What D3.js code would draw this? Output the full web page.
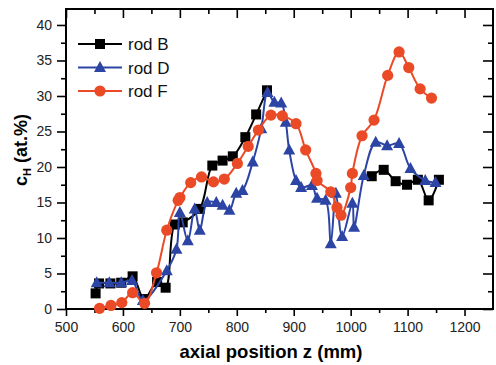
<!DOCTYPE html>
<html>
<head>
<meta charset="utf-8">
<script src="https://cdn.jsdelivr.net/npm/d3@7"></script>
<style>
  body { margin: 0; background: #fff; }
  svg { font-family: "Liberation Sans", Arial, sans-serif; }
</style>
</head>
<body>
<div id="chart"></div>
<script>
// axial position z (mm) and hydrogen content (at.%) per rod
const rodBz = [552, 558, 578, 597, 617, 637, 660, 675, 691, 705, 735, 757, 775, 793, 815, 834, 853, null, 1037, 1058, 1079, 1099, 1118, 1137, 1155];
const rodBc = [2.2, 3.6, 3.6, 3.7, 4.6, 1.4, 3.8, 3.0, 11.9, 12.2, 14.1, 20.2, 20.9, 21.5, 24.2, 27.4, 30.8, null, 18.7, 19.6, 18.0, 17.5, 18.2, 15.3, 18.2];

const rodDz = [554, 576, 597, 616, 635, 677, 694, 700, 714, 726, 735, 748, 764, 775, 787, 799, 810, 828, 843, 854, 866, 878, 886, 892, 904, 913, 932, 941, 956, 965, 974, 985, 1003, 1006, 1023, 1044, 1064, 1085, 1105, 1131, 1149];
const rodDc = [3.7, 3.7, 3.7, 4.0, 1.2, 5.4, 8.4, 13.6, 9.6, 14.1, 11.1, 15.0, 15.0, 14.6, 13.9, 16.3, 16.7, 20.7, 25.4, 30.5, 29.1, 29.0, 26.3, 22.4, 18.1, 17.1, 17.4, 15.6, 15.3, 9.2, 16.3, 10.2, 14.9, 11.5, 18.8, 23.5, 23.0, 23.3, 19.8, 18.1, 17.8];

const rodFz = [559, 579, 598, 617, 638, 659, 677, 697, 700, 719, 738, 759, 778, 801, 820, 838, 860, 880, 904, 921, 939, 941, 965, 976, 983, 1000, 1003, 1020, 1041, 1065, 1085, 1102, 1122, 1142];
const rodFc = [0.1, 0.5, 0.9, 2.3, 0.8, 5.1, 11.1, 15.3, 15.7, 17.8, 18.6, 17.9, 18.3, 20.5, 22.9, 25.2, 27.3, 27.2, 26.1, 22.4, 19.1, 18.1, 16.5, 14.3, 13.2, 17.1, 19.1, 24.4, 26.6, 32.9, 36.2, 34.0, 31.0, 29.7];

const xTicks = [500, 600, 700, 800, 900, 1000, 1100, 1200];
const yTicks = [0, 5, 10, 15, 20, 25, 30, 35, 40];

const series = [
  { name: 'rod B', z: rodBz, c: rodBc, color: '#000000', shape: 'square' },
  { name: 'rod D', z: rodDz, c: rodDc, color: '#2c44a4', shape: 'triangle' },
  { name: 'rod F', z: rodFz, c: rodFc, color: '#ea4a26', shape: 'circle' }
];

const width = 496, height = 365;
const margin = { top: 9, right: 3, bottom: 56, left: 66 };

const svg = d3.select('#chart').append('svg')
  .attr('width', width)
  .attr('height', height);

const x = d3.scaleLinear()
  .domain([500, 1250])
  .range([margin.left, width - margin.right]);

const y = d3.scaleLinear()
  .domain([0, 42.25])
  .range([height - margin.bottom, margin.top]);

const minorX = d3.range(550, 1250, 100);
const minorY = d3.range(2.5, 42, 5);

function styleAxis(g) {
  g.select('.domain').remove();
  g.selectAll('line').attr('stroke', '#000').attr('stroke-width', 1.6);
  g.selectAll('text').attr('font-size', 14).attr('fill', '#222');
}

// bottom axis
svg.append('g')
  .attr('transform', `translate(0,${y(0)})`)
  .call(d3.axisBottom(x).tickValues(xTicks).tickSize(7).tickPadding(6).tickFormat(d3.format('d')))
  .call(styleAxis);
svg.append('g')
  .attr('transform', `translate(0,${y(0)})`)
  .call(d3.axisBottom(x).tickValues(minorX).tickSize(4).tickFormat(''))
  .call(styleAxis);

// top axis (ticks inward)
svg.append('g')
  .attr('transform', `translate(0,${margin.top})`)
  .call(d3.axisTop(x).tickValues(xTicks).tickSize(-9).tickFormat(''))
  .call(styleAxis);
svg.append('g')
  .attr('transform', `translate(0,${margin.top})`)
  .call(d3.axisTop(x).tickValues(minorX).tickSize(-5).tickFormat(''))
  .call(styleAxis);

// left axis
svg.append('g')
  .attr('transform', `translate(${margin.left},0)`)
  .call(d3.axisLeft(y).tickValues(yTicks).tickSize(9).tickPadding(5))
  .call(styleAxis);
svg.append('g')
  .attr('transform', `translate(${margin.left},0)`)
  .call(d3.axisLeft(y).tickValues(minorY).tickSize(5).tickFormat(''))
  .call(styleAxis);

// right axis (ticks inward)
svg.append('g')
  .attr('transform', `translate(${width - margin.right},0)`)
  .call(d3.axisRight(y).tickValues(yTicks).tickSize(-10).tickFormat(''))
  .call(styleAxis);
svg.append('g')
  .attr('transform', `translate(${width - margin.right},0)`)
  .call(d3.axisRight(y).tickValues(minorY).tickSize(-5).tickFormat(''))
  .call(styleAxis);

// frame
svg.append('rect')
  .attr('x', margin.left)
  .attr('y', margin.top)
  .attr('width', width - margin.right - margin.left)
  .attr('height', y(0) - margin.top)
  .attr('fill', 'none')
  .attr('stroke', '#000')
  .attr('stroke-width', 2);

// axis titles
svg.append('text')
  .attr('x', 271)
  .attr('y', 358)
  .attr('text-anchor', 'middle')
  .attr('font-size', 18.5)
  .attr('font-weight', 'bold')
  .text('axial position z (mm)');

const yTitle = svg.append('text')
  .attr('transform', 'translate(27,150) rotate(-90)')
  .attr('text-anchor', 'middle')
  .attr('font-size', 18)
  .attr('font-weight', 'bold');
yTitle.append('tspan').text('c');
yTitle.append('tspan').attr('font-size', 11).attr('dy', 4).text('H');
yTitle.append('tspan').attr('dy', -4).text(' (at.%)');

function drawMarker(g, shape, color, cx, cy) {
  if (shape === 'square') {
    g.append('rect').attr('x', cx - 5).attr('y', cy - 5).attr('width', 10).attr('height', 10).attr('fill', color);
  } else if (shape === 'triangle') {
    g.append('path').attr('d', `M${cx},${cy - 6.5}L${cx + 6},${cy + 4.5}L${cx - 6},${cy + 4.5}Z`).attr('fill', color);
  } else {
    g.append('circle').attr('cx', cx).attr('cy', cy).attr('r', 5.6).attr('fill', color);
  }
}

const line = d3.line()
  .defined(d => d[0] != null)
  .x(d => x(d[0]))
  .y(d => y(d[1]))
  .curve(d3.curveCatmullRom.alpha(0.5));

series.forEach(s => {
  const pts = s.z.map((z, i) => [z, s.c[i]]);
  const g = svg.append('g');
  g.append('path')
    .attr('d', line(pts))
    .attr('fill', 'none')
    .attr('stroke', s.color)
    .attr('stroke-width', 2);
  pts.filter(d => d[0] != null).forEach(d => drawMarker(g, s.shape, s.color, x(d[0]), y(d[1])));
});

// legend
series.forEach((s, i) => {
  const ly = 44 + i * 23.5;
  const g = svg.append('g');
  g.append('line')
    .attr('x1', 78).attr('x2', 122)
    .attr('y1', ly).attr('y2', ly)
    .attr('stroke', s.color)
    .attr('stroke-width', 2);
  drawMarker(g, s.shape, s.color, 100, ly);
  g.append('text')
    .attr('x', 128)
    .attr('y', ly + 6)
    .attr('font-size', 17)
    .attr('fill', '#111')
    .text(s.name);
});
</script>
</body>
</html>
